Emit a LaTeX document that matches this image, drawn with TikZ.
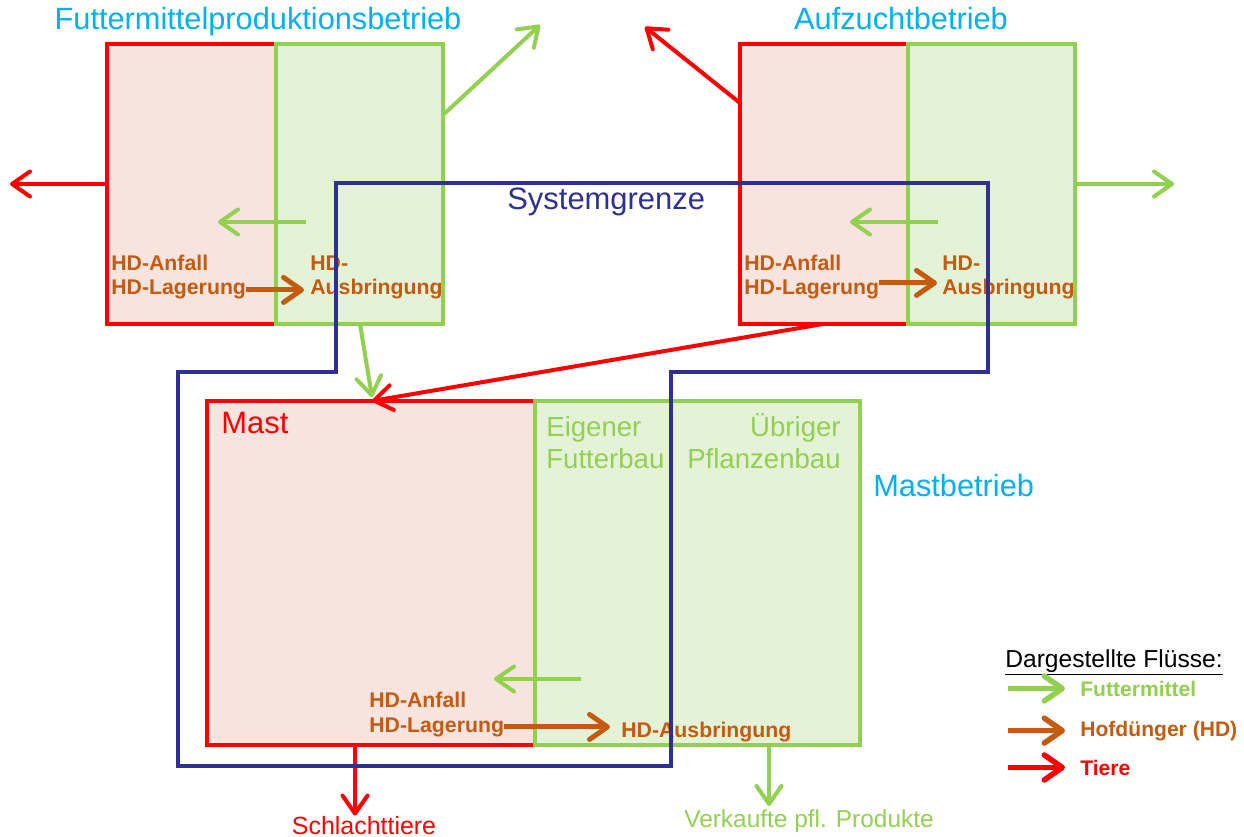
\documentclass[tikz,border=0pt]{standalone}
\usepackage{fontspec}
\setmainfont{Liberation Sans}
\usetikzlibrary{arrows.meta,fit}
\definecolor{tierrot}{HTML}{FF0000}
\definecolor{futtergruen}{HTML}{92D050}
\definecolor{hdbraun}{HTML}{C55A11}
\definecolor{titelblau}{HTML}{00B0F0}
\definecolor{grenzblau}{HTML}{2E3192}
\definecolor{rotfill}{HTML}{F8E4DE}
\definecolor{gruenfill}{HTML}{E4F2D7}

\begin{document}
\begin{tikzpicture}[x=0.02cm,y=-0.02cm,
  tierbox/.style={draw=tierrot,fill=rotfill,line width=0.085cm,inner sep=0pt},
  futterbox/.style={draw=futtergruen,fill=gruenfill,line width=0.085cm,inner sep=0pt},
  tier/.style={draw=tierrot,line width=0.08cm,-{Straight Barb[round,length=0.36cm,width=0.5cm]}},
  futter/.style={tier,draw=futtergruen},
  hofd/.style={tier,draw=hdbraun,line width=0.1cm},
  legpfeil/.style={line width=0.11cm,shorten >=0.3cm},
  grenze/.style={draw=grenzblau,line width=0.09cm},
  betrieb/.style={text=titelblau,inner sep=0pt,anchor=base,font=\fontsize{17.5}{21}\selectfont},
  hdtext/.style={text=hdbraun,inner sep=0pt,anchor=base west,font=\bfseries\fontsize{12.1}{14}\selectfont},
  anbau/.style={text=futtergruen,inner sep=0pt,font=\fontsize{15.7}{18}\selectfont},
  legende/.style={inner sep=0pt,anchor=base west,font=\bfseries\fontsize{12}{14}\selectfont}]
  \useasboundingbox (0,0) rectangle (1244,837);

  % Futtermittelproduktionsbetrieb
  \node[tierbox,fit={(107,44)(276,324)}]   (fpTier)   {};
  \node[futterbox,fit={(276,44)(443,324)}] (fpFutter) {};
  \node[betrieb]  (fpName)   at (258,30)  {Futtermittelproduktionsbetrieb};
  \node[hdtext]   (fpAnfall) at (111,271) {HD-Anfall};
  \node[hdtext]   (fpLager)  at (111,295) {HD-Lagerung};
  \node[hdtext]   (fpHD)     at (310,271) {HD-};
  \node[hdtext]   (fpAusbr)  at (310,295) {Ausbringung};

  % Aufzuchtbetrieb
  \node[tierbox,fit={(740,44)(908,324)}]    (azTier)   {};
  \node[futterbox,fit={(908,44)(1075,324)}] (azFutter) {};
  \node[betrieb]  (azName)   at (901,30)  {Aufzuchtbetrieb};
  \node[hdtext]   (azAnfall) at (744,271) {HD-Anfall};
  \node[hdtext]   (azLager)  at (744,295) {HD-Lagerung};
  \node[hdtext]   (azHD)     at (942,271) {HD-};
  \node[hdtext]   (azAusbr)  at (942,295) {Ausbringung};

  % Mastbetrieb
  \node[tierbox,fit={(207,401)(535,745)}]   (mbTier)   {};
  \node[futterbox,fit={(535,401)(860,745)}] (mbFutter) {};
  \node[text=tierrot,inner sep=0pt,anchor=base west,font=\fontsize{17.6}{21}\selectfont]
                  (mbMast)      at (221,434) {Mast};
  \node[anbau,anchor=base west] (mbEigen)     at (546,437) {Eigener};
  \node[anbau,anchor=base west] (mbFutterbau) at (546,469) {Futterbau};
  \node[anbau,anchor=base east] (mbUebrig)    at (841,437) {Übriger};
  \node[anbau,anchor=base east] (mbPflanz)    at (841,469) {Pflanzenbau};
  \node[betrieb,anchor=base west] (mbName)    at (873,497) {Mastbetrieb};
  \node[hdtext]   (mbAnfall) at (369,707) {HD-Anfall};
  \node[hdtext]   (mbLager)  at (369,732) {HD-Lagerung};
  \node[hdtext]   (mbAusbr)  at (621,737) {HD-Ausbringung};
  \node[text=tierrot,inner sep=0pt,anchor=base,font=\fontsize{14.2}{17}\selectfont]
                  (schlacht) at (364,834) {Schlachttiere};
  \node[text=futtergruen,inner sep=0pt,anchor=base,font=\fontsize{13.9}{17}\selectfont]
                  (verkauf)  at (809,827) {Verkaufte pfl. Produkte};

  % Tiere
  \coordinate (fpTierAus)   at (10,184);
  \coordinate (azTierAb)    at (740,103);
  \coordinate (azTierAus)   at (645,27);
  \coordinate (azTierUnten) at (823,324);
  \coordinate (mbTierEin)   at (372,401);
  \coordinate (mbTierUnten) at (355,745);
  \draw[tier] (fpTier.west) -- (fpTierAus);
  \draw[tier] (azTierAb) -- (azTierAus);
  \draw[tier] (azTierUnten) -- (mbTierEin);
  \draw[tier] (mbTierUnten) -- (schlacht.north -| mbTierUnten);

  % Futtermittel
  \coordinate (fpFutterAb)    at (443,115);
  \coordinate (fpFutterAus)   at (540,25);
  \coordinate (fpFutterUnten) at (360,324);
  \coordinate (mbFutterEin)   at (372,397);
  \coordinate (azFutterAus)   at (1174,184);
  \coordinate (fpInnenA) at (306,222);
  \coordinate (fpInnenB) at (218,222);
  \coordinate (azInnenA) at (938,222);
  \coordinate (azInnenB) at (850,222);
  \coordinate (mbInnenA) at (581,679);
  \coordinate (mbInnenB) at (494,679);
  \coordinate (mbFutterUnten) at (769,745);
  \draw[futter] (fpFutterAb) -- (fpFutterAus);
  \draw[futter] (fpFutterUnten) -- (mbFutterEin);
  \draw[futter] (azFutter.east) -- (azFutterAus);
  \draw[futter] (fpInnenA) -- (fpInnenB);
  \draw[futter] (azInnenA) -- (azInnenB);
  \draw[futter] (mbInnenA) -- (mbInnenB);
  \draw[futter,shorten >=0.06cm] (mbFutterUnten) -- (verkauf.north -| mbFutterUnten);

  % Hofduenger
  \draw[hofd,shorten >=0.12cm] (fpLager.east) -- (fpLager.east -| fpAusbr.west);
  \draw[hofd,shorten >=0.1cm] ([yshift=4pt]azLager.east) -- ([yshift=4pt]azLager.east -| azAusbr.west);
  \draw[hofd,shorten >=0.22cm] (mbLager.east) -- (mbLager.east -| mbAusbr.west);

  % Systemgrenze
  \draw[grenze] (336,183) -- (988,183) -- (988,372) -- (671,372) -- (671,766)
                -- (178,766) -- (178,372) -- (336,372) -- cycle;
  \node[text=grenzblau,inner sep=0pt,anchor=base west,font=\fontsize{17.6}{21}\selectfont]
        (grenzeName) at (507,210) {Systemgrenze};

  % Legende
  \node[inner sep=0pt,anchor=base west,font=\fontsize{14}{17}\selectfont]
        (lgTitel) at (1005,667) {\underline{Dargestellte Flüsse:}};
  \node[legende,text=futtergruen] (lgFutter) at (1080,696) {Futtermittel};
  \node[legende,text=hdbraun]     (lgHD)     at (1080,736) {Hofdünger (HD)};
  \node[legende,text=tierrot]     (lgTier)   at (1080,775) {Tiere};
  \draw[futter,legpfeil] ([xshift=-1.44cm]lgFutter.west) -- (lgFutter.west);
  \draw[hofd,legpfeil]   ([xshift=-1.44cm]lgHD.west) -- (lgHD.west);
  \draw[tier,legpfeil]   ([xshift=-1.44cm]lgTier.west) -- (lgTier.west);
\end{tikzpicture}
\end{document}
